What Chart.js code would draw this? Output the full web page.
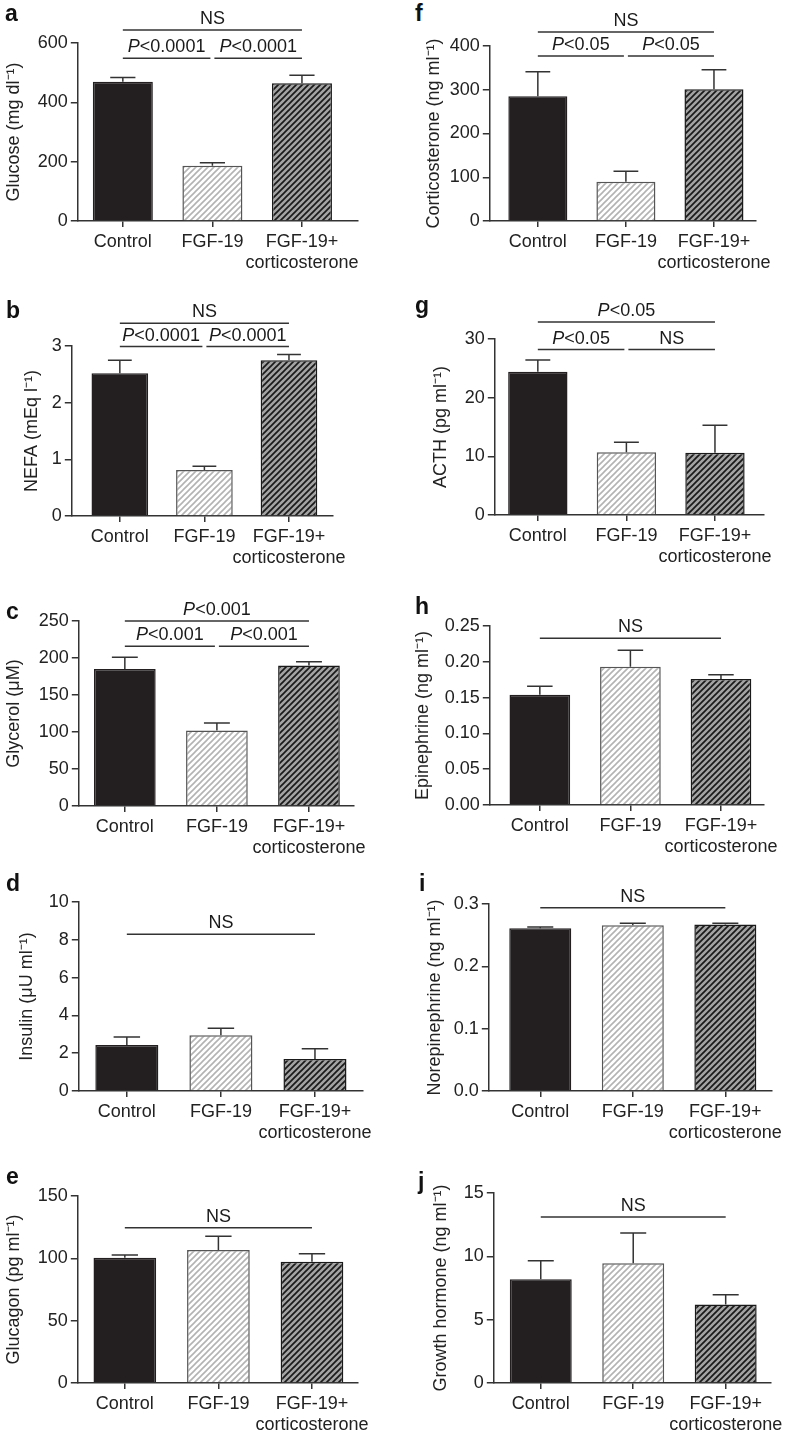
<!DOCTYPE html>
<html>
<head>
<meta charset="utf-8">
<script src="https://cdn.jsdelivr.net/npm/chart.js@4.4.1/dist/chart.umd.min.js"></script>
<style>
  body { margin: 0; background: #fff; width: 788px; height: 1439px; position: relative; overflow: hidden; }
  .panel { position: absolute; }
  .tag { position: absolute; font: bold 23px "Liberation Sans", Arial, sans-serif; line-height: 1; color: #111; }
</style>
</head>
<body>
<script>
// groups on the x axis
const groups = ['Control', 'FGF-19', ['FGF-19+', 'corticosterone']];

// mean and s.e.m. per group
const glucose = [469, 186, 464];
const glucoseErr = [15, 10, 27];
const nefa = [2.52, 0.81, 2.75];
const nefaErr = [0.23, 0.07, 0.1];
const glycerol = [185, 102, 190];
const glycerolErr = [16, 10, 5];
const insulin = [2.43, 2.95, 1.69];
const insulinErr = [0.43, 0.37, 0.55];
const glucagon = [100.5, 106.7, 97.3];
const glucagonErr = [2.2, 11, 6.4];
const cort = [285, 90, 301];
const cortErr = [56, 24, 45];
const acth = [24.4, 10.7, 10.6];
const acthErr = [2, 1.7, 4.7];
const epi = [0.154, 0.193, 0.176];
const epiErr = [0.012, 0.023, 0.006];
const norepi = [0.261, 0.266, 0.267];
const norepiErr = [0.002, 0.003, 0.002];
const gh = [8.2, 9.45, 6.2];
const ghErr = [1.45, 2.4, 0.76];

// y tick values
const glucoseTicks = [0, 200, 400, 600];
const nefaTicks = [0, 1, 2, 3];
const glycerolTicks = [0, 50, 100, 150, 200, 250];
const insulinTicks = [0, 2, 4, 6, 8, 10];
const glucagonTicks = [0, 50, 100, 150];
const cortTicks = [0, 100, 200, 300, 400];
const acthTicks = [0, 10, 20, 30];
const epiTicks = [0, 0.05, 0.10, 0.15, 0.20, 0.25];
const norepiTicks = [0, 0.1, 0.2, 0.3];
const ghTicks = [0, 5, 10, 15];

// significance bars: from group, to group, height in data units, label
const glucoseSig = [[0, 2, 644, 'NS'], [0, 1, 549, 'P<0.0001'], [1, 2, 549, 'P<0.0001']];
const nefaSig = [[0, 2, 3.4, 'NS'], [0, 1, 2.99, 'P<0.0001'], [1, 2, 2.99, 'P<0.0001']];
const glycerolSig = [[0, 2, 250, 'P<0.001'], [0, 1, 216, 'P<0.001'], [1, 2, 216, 'P<0.001']];
const insulinSig = [[0, 2, 8.29, 'NS']];
const glucagonSig = [[0, 2, 124.6, 'NS']];
const cortSig = [[0, 2, 432, 'NS'], [0, 1, 377, 'P<0.05'], [1, 2, 377, 'P<0.05']];
const acthSig = [[0, 2, 32.9, 'P<0.05'], [0, 1, 28.2, 'P<0.05'], [1, 2, 28.2, 'NS']];
const epiSig = [[0, 2, 0.233, 'NS']];
const norepiSig = [[0, 2, 0.294, 'NS']];
const ghSig = [[0, 2, 13.1, 'NS']];

const FONT = '"Liberation Sans", Arial, sans-serif';

// page layout of each panel (pixels)
const panels = [
  { tag: 'a', tagX: 5, tagY: 2, title: 'Glucose (mg dl\u207B\u00B9)', v: glucose, e: glucoseErr, t: glucoseTicks, sig: glucoseSig, dec: 0,
    top: 0, bottom: 280, right: 394, titleX: 14, axisX: 78, xEnd: 358, c0: 123, c2: 302, yTop: 43, y0: 221 },
  { tag: 'b', tagX: 6, tagY: 299, title: 'NEFA (mEq l\u207B\u00B9)', v: nefa, e: nefaErr, t: nefaTicks, sig: nefaSig, dec: 0,
    top: 280, bottom: 560, right: 394, titleX: 32, axisX: 72, xEnd: 333, c0: 120, c2: 289, yTop: 346, y0: 516 },
  { tag: 'c', tagX: 6, tagY: 600, title: 'Glycerol (\u03BCM)', v: glycerol, e: glycerolErr, t: glycerolTicks, sig: glycerolSig, dec: 0,
    top: 560, bottom: 840, right: 394, titleX: 14, axisX: 79, xEnd: 354, c0: 125, c2: 309, yTop: 621, y0: 806 },
  { tag: 'd', tagX: 6, tagY: 872, title: 'Insulin (\u03BCU ml\u207B\u00B9)', v: insulin, e: insulinErr, t: insulinTicks, sig: insulinSig, dec: 0,
    top: 840, bottom: 1130, right: 394, titleX: 27, axisX: 79, xEnd: 363, c0: 127, c2: 315, yTop: 902, y0: 1091 },
  { tag: 'e', tagX: 6, tagY: 1165, title: 'Glucagon (pg ml\u207B\u00B9)', v: glucagon, e: glucagonErr, t: glucagonTicks, sig: glucagonSig, dec: 0,
    top: 1130, bottom: 1439, right: 394, titleX: 14, axisX: 78, xEnd: 358, c0: 125, c2: 312, yTop: 1196, y0: 1383 },
  { tag: 'f', tagX: 415, tagY: 2, title: 'Corticosterone (ng ml\u207B\u00B9)', v: cort, e: cortErr, t: cortTicks, sig: cortSig, dec: 0,
    top: 0, bottom: 280, right: 788, titleX: 434, axisX: 490, xEnd: 756, c0: 538, c2: 714, yTop: 46, y0: 221 },
  { tag: 'g', tagX: 415, tagY: 294, title: 'ACTH (pg ml\u207B\u00B9)', v: acth, e: acthErr, t: acthTicks, sig: acthSig, dec: 0,
    top: 280, bottom: 560, right: 788, titleX: 441, axisX: 495, xEnd: 764, c0: 538, c2: 715, yTop: 339, y0: 515 },
  { tag: 'h', tagX: 415, tagY: 595, title: 'Epinephrine (ng ml\u207B\u00B9)', v: epi, e: epiErr, t: epiTicks, sig: epiSig, dec: 2,
    top: 560, bottom: 840, right: 788, titleX: 423, axisX: 490, xEnd: 764, c0: 540, c2: 721, yTop: 626, y0: 805 },
  { tag: 'i', tagX: 419, tagY: 872, title: 'Norepinephrine (ng ml\u207B\u00B9)', v: norepi, e: norepiErr, t: norepiTicks, sig: norepiSig, dec: 1,
    top: 840, bottom: 1130, right: 788, titleX: 435, axisX: 489, xEnd: 775, c0: 541, c2: 728, yTop: 904, y0: 1091 },
  { tag: 'j', tagX: 418, tagY: 1170, title: 'Growth hormone (ng ml\u207B\u00B9)', v: gh, e: ghErr, t: ghTicks, sig: ghSig, dec: 0,
    top: 1130, bottom: 1439, right: 788, titleX: 441, axisX: 494, xEnd: 777, c0: 542, c2: 731, yTop: 1193, y0: 1383 }
];

// extra canvas room below each row so two-line tick labels are not cut
const SPILL = 40;

function hatch(bg, line, width) {
  const s = 6;
  const c = document.createElement('canvas');
  c.width = s; c.height = s;
  const g = c.getContext('2d');
  g.fillStyle = bg;
  g.fillRect(0, 0, s, s);
  g.strokeStyle = line;
  g.lineWidth = width;
  g.beginPath();
  g.moveTo(0, s); g.lineTo(s, 0);
  g.moveTo(-s, s); g.lineTo(s, -s);
  g.moveTo(0, 2 * s); g.lineTo(2 * s, 0);
  g.stroke();
  return g.createPattern(c, 'repeat');
}
const lightHatch = hatch('#ffffff', '#b3b3b3', 1.6);
const darkHatch = hatch('#a3a3a3', '#1a1a1a', 1.7);

function drawSigText(ctx, text, cx, base) {
  const it = text.startsWith('P');
  const rest = it ? text.slice(1) : text;
  ctx.font = 'italic 18px ' + FONT;
  const wp = it ? ctx.measureText('P').width : 0;
  ctx.font = '18px ' + FONT;
  const wr = ctx.measureText(rest).width;
  let x = cx - (wp + wr) / 2;
  if (it) {
    ctx.font = 'italic 18px ' + FONT;
    ctx.fillText('P', x, base);
    x += wp;
    ctx.font = '18px ' + FONT;
  }
  ctx.fillText(rest, x, base);
}

const extras = {
  id: 'extras',
  afterDatasetsDraw(chart) {
    const p = panels[+chart.canvas.dataset.k];
    if (!p) return;
    const ctx = chart.ctx;
    const xs = chart.scales.x, ys = chart.scales.y;
    ctx.save();
    ctx.strokeStyle = '#333';
    ctx.lineWidth = 1.5;
    // error bars (mean + sem)
    chart.getDatasetMeta(0).data.forEach((bar, i) => {
      const top = ys.getPixelForValue(p.v[i] + p.e[i]);
      const half = bar.width * 0.21;
      ctx.beginPath();
      ctx.moveTo(bar.x, bar.y);
      ctx.lineTo(bar.x, top);
      ctx.moveTo(bar.x - half, top);
      ctx.lineTo(bar.x + half, top);
      ctx.stroke();
    });
    // significance lines
    ctx.fillStyle = '#1a1a1a';
    ctx.textAlign = 'left';
    ctx.textBaseline = 'alphabetic';
    p.sig.forEach(([a, b, val, label]) => {
      let x1 = xs.getPixelForValue(a), x2 = xs.getPixelForValue(b);
      if (a === 1) x1 += 2;
      if (b === 1) x2 -= 2;
      const y = ys.getPixelForValue(val);
      ctx.beginPath();
      ctx.moveTo(x1, y);
      ctx.lineTo(x2, y);
      ctx.stroke();
      drawSigText(ctx, label, (x1 + x2) / 2, y - 6);
    });
    ctx.restore();
  }
};

panels.forEach((p, k) => {
  const left = p.titleX - 10.8;
  const w = p.right - left, h = p.bottom - p.top + SPILL;
  const div = document.createElement('div');
  div.className = 'panel';
  div.style.left = left + 'px';
  div.style.top = p.top + 'px';
  div.style.width = w + 'px';
  div.style.height = h + 'px';
  const cv = document.createElement('canvas');
  cv.width = Math.round(w);
  cv.height = h;
  cv.dataset.k = k;
  div.appendChild(cv);
  document.body.appendChild(div);

  const tag = document.createElement('div');
  tag.className = 'tag';
  tag.textContent = p.tag;
  tag.style.left = p.tagX + 'px';
  tag.style.top = p.tagY + 'px';
  document.body.appendChild(tag);

  const sp = (p.c2 - p.c0) / 2;
  const axisStyle = { color: '#333', width: 1.5, display: true };

  new Chart(cv, {
    type: 'bar',
    data: {
      datasets: [{
        data: p.v.map((y, i) => ({ x: i, y: y })),
        backgroundColor: ['#231f20', lightHatch, darkHatch],
        borderColor: ['#231f20', '#555555', '#1a1a1a'],
        borderWidth: 1.5,
        barPercentage: 0.67,
        categoryPercentage: 1
      }]
    },
    options: {
      responsive: false,
      animation: false,
      devicePixelRatio: 1,
      layout: {
        autoPadding: false,
        padding: { top: p.yTop - p.top, right: p.right - p.xEnd, bottom: 0, left: 0 }
      },
      plugins: { legend: { display: false }, tooltip: { enabled: false } },
      scales: {
        x: {
          type: 'linear',
          offset: false,
          min: -(p.c0 - p.axisX) / sp,
          max: 2 + (p.xEnd - p.c2) / sp,
          border: axisStyle,
          grid: { offset: false, drawOnChartArea: false, tickLength: 6, color: '#333', lineWidth: 1.5 },
          afterBuildTicks: s => { s.ticks = [0, 1, 2].map(v => ({ value: v })); },
          afterFit: s => { s.height = p.bottom - p.y0 + SPILL; },
          ticks: {
            autoSkip: false, maxRotation: 0, minRotation: 0, padding: 4,
            color: '#222', font: { family: FONT, size: 18 },
            callback: v => groups[v]
          }
        },
        y: {
          min: 0,
          max: p.t[p.t.length - 1],
          border: axisStyle,
          grid: { drawOnChartArea: false, tickLength: 7, color: '#333', lineWidth: 1.5 },
          afterBuildTicks: s => { s.ticks = p.t.map(v => ({ value: v })); },
          afterFit: s => { s.width = p.axisX - left; },
          ticks: {
            padding: 3, color: '#222', font: { family: FONT, size: 18 },
            callback: v => v.toFixed(p.dec)
          },
          title: {
            display: true, text: p.title, color: '#222',
            font: { family: FONT, size: 18 }, padding: 0
          }
        }
      }
    },
    plugins: [extras]
  });
});
</script>
</body>
</html>
